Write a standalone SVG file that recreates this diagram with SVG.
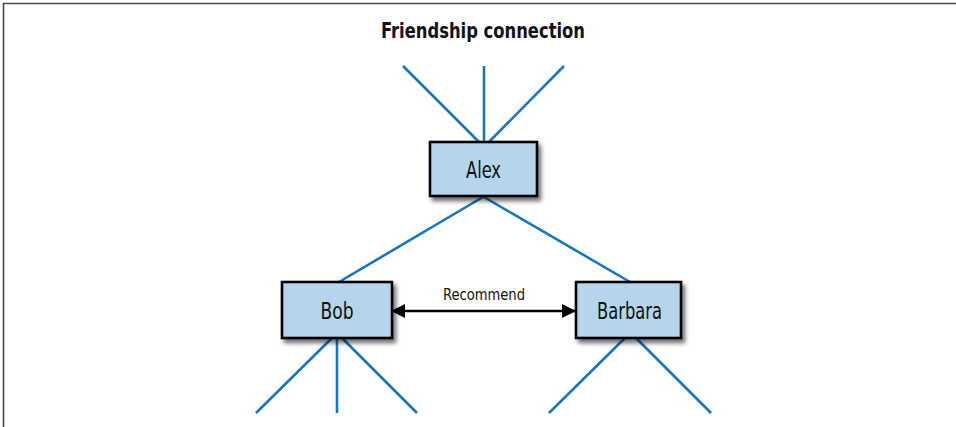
<svg xmlns="http://www.w3.org/2000/svg" width="956" height="427" viewBox="0 0 956 427">
  <defs>
    <style>
      .frame { fill: none; stroke: #4a4a4a; stroke-width: 1.6; }
      .link { stroke: #1b75bb; stroke-width: 2.6; fill: none; }
      .box { fill: #b4d5eb; stroke: #000; stroke-width: 2.6; filter: url(#shadow); }
      .label { font-family: "Liberation Sans Narrow", "DejaVu Sans Condensed", "Liberation Sans", sans-serif; fill: #111; text-anchor: middle; }
      .name { font-size: 23px; }
      .title { font-size: 22px; font-weight: bold; }
      .small { font-size: 16px; }
      .arrow { stroke: #000; stroke-width: 2.4; fill: none; }
    </style>
    <filter id="shadow" x="-20%" y="-20%" width="150%" height="160%">
      <feDropShadow dx="3" dy="4" stdDeviation="2.2" flood-color="#000" flood-opacity="0.55"/>
    </filter>
    <marker id="head" viewBox="0 0 14 14" refX="13" refY="7" markerWidth="14" markerHeight="14" markerUnits="userSpaceOnUse" orient="auto-start-reverse">
      <path d="M0,0 L14,7 L0,14 Z" fill="#000"/>
    </marker>
  </defs>

  <!-- page frame -->
  <path class="frame" d="M3.5,427 L3.5,3.5 L956,3.5"/>

  <text class="label title" x="483" y="38" textLength="204" lengthAdjust="spacingAndGlyphs">Friendship connection</text>

  <g id="connectors">
    <!-- Alex's other friends -->
    <line class="link" x1="403" y1="66" x2="479" y2="142"/>
    <line class="link" x1="484" y1="66" x2="484" y2="142"/>
    <line class="link" x1="564" y1="66" x2="489" y2="142"/>
    <!-- Alex to Bob and Barbara -->
    <line class="link" x1="483" y1="197" x2="339" y2="282"/>
    <line class="link" x1="484" y1="197" x2="630" y2="282"/>
    <!-- Bob's other friends -->
    <line class="link" x1="332" y1="338" x2="256" y2="413"/>
    <line class="link" x1="337" y1="338" x2="337" y2="413"/>
    <line class="link" x1="342" y1="338" x2="417" y2="413"/>
    <!-- Barbara's other friends -->
    <line class="link" x1="625" y1="338" x2="549" y2="413"/>
    <line class="link" x1="636" y1="338" x2="711" y2="413"/>
    <!-- recommendation -->
    <line class="arrow" x1="392" y1="311" x2="575" y2="311" marker-start="url(#head)" marker-end="url(#head)"/>
    <text class="label small" x="484" y="300" textLength="82" lengthAdjust="spacingAndGlyphs">Recommend</text>
  </g>

  <g id="alex">
    <rect class="box" x="430" y="142" width="107" height="54"/>
    <text class="label name" x="483.5" y="178" textLength="35" lengthAdjust="spacingAndGlyphs">Alex</text>
  </g>

  <g id="bob">
    <rect class="box" x="282" y="282" width="110" height="56"/>
    <text class="label name" x="337" y="319" textLength="33" lengthAdjust="spacingAndGlyphs">Bob</text>
  </g>

  <g id="barbara">
    <rect class="box" x="576" y="282" width="105" height="56"/>
    <text class="label name" x="629.5" y="319" textLength="65" lengthAdjust="spacingAndGlyphs">Barbara</text>
  </g>
</svg>
